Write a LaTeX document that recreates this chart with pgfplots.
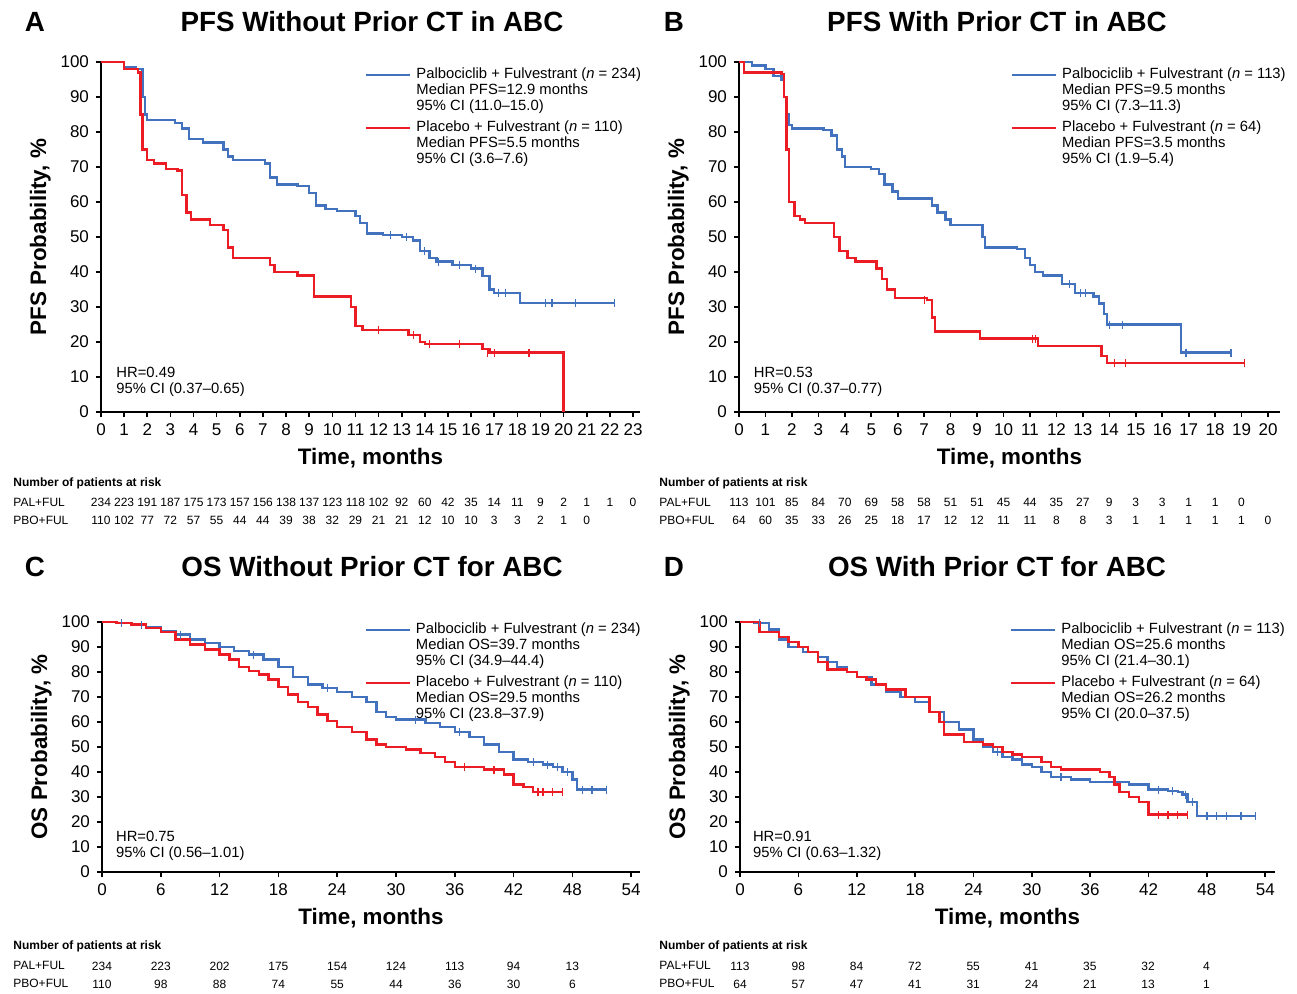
\documentclass[border=0pt]{standalone}
\usepackage{pgfplots}
\pgfplotsset{compat=1.18}
\usepackage{fontspec}
\setmainfont{Liberation Sans}
\definecolor{kmblue}{RGB}{66,114,190}
\definecolor{kmred}{RGB}{236,28,36}
\newcommand{\fs}[1]{\fontsize{#1}{#1}\selectfont}
\pgfplotsset{km/.style={scale only axis, axis lines=left, axis line style={-,line width=1pt},
 tick style={line width=0.8pt,black}, tick align=outside, major tick length=2.5pt,
 ymin=0,ymax=100, ytick={0,10,...,100}, clip=false, xmin=0,
 ticklabel style={font=\fs{8.5}}, /pgf/number format/assume math mode=true,
 xlabel style={font=\bfseries\fs{11.2},yshift=1pt}, ylabel style={font=\bfseries\fs{11.2},yshift=-2pt},
 xlabel={Time, months}},
 bl/.style={kmblue,line width=1.2pt,const plot,mark=none},
 rd/.style={kmred,line width=1.2pt,const plot,mark=none},
 cb/.style={kmblue,only marks,mark=|,mark size=2pt,mark options={line width=0.6pt}},
 cr/.style={kmred,only marks,mark=|,mark size=2pt,mark options={line width=0.6pt}}}
\tikzset{lg/.style={anchor=west,font=\fs{7.4},align=left,inner sep=0}}
\begin{document}
\begin{tikzpicture}
\useasboundingbox (0,0) rectangle (648.5pt,496.5pt);
\fill[white] (0,0) rectangle (648.5pt,496.5pt);
% ---------- A
\begin{axis}[km, at={(50.5pt,290.5pt)}, width=269.5pt, height=175pt, xmax=23.3, xtick={0,...,23},
 ylabel={PFS Probability, \%}]
\addplot[bl] coordinates {(0,100)(1,98.5)(1.5,98)(1.8,90)(1.9,85)(2,83.5)(3.2,82.5)(3.5,81)(3.8,78)(4.4,77)(5.3,75)(5.5,73)(5.7,72)(7.1,71)(7.3,67)(7.6,65)(8.5,64.5)(9,62.5)(9.3,59)(9.7,58)(10.2,57.5)(11,56)(11.2,54)(11.5,51)(12.2,50.5)(13,50)(13.5,49)(13.8,46)(14.2,44)(14.5,43)(15.2,42)(16,41)(16.5,38.8)(16.8,35)(17,34)(18.1,31.2)(22.2,31.2)};
\addplot[cb] coordinates {(12.5,50.5)(13.2,50)(14,46)(14.6,43)(15.5,42)(16.2,41)(17.2,34)(17.5,34)(19.2,31.2)(19.5,31.2)(20.5,31.2)(22.2,31.2)};
\addplot[rd] coordinates {(0,100)(1,98)(1.6,97)(1.7,85)(1.8,75)(2,72)(2.3,71)(2.8,69.5)(3.3,69)(3.5,62)(3.7,57)(3.9,55)(4.7,53.5)(5.3,52)(5.5,47)(5.7,44)(7.3,42)(7.5,40)(8.5,39)(9.2,33)(10.8,30)(11,24.5)(11.3,23.5)(13.3,22)(13.8,20)(14,19.5)(16.5,18)(16.8,17)(20,17)(20,0)};
\addplot[cr] coordinates {(12,23.5)(13.5,22)(14.2,19.5)(15.5,19.5)(16.7,17)(17,17)(18.5,17)};
\draw[kmblue,line width=1.2pt] (axis cs:11.46,96.3)--(axis cs:13.36,96.3);
\draw[kmred,line width=1.2pt] (axis cs:11.46,81.1)--(axis cs:13.36,81.1);
\node[lg] at (axis cs:13.62,91.7) {Palbociclib + Fulvestrant (\textit{n} = 234)\\[0.6pt]Median PFS=12.9 months\\[0.6pt]95\% CI (11.0--15.0)};
\node[lg] at (axis cs:13.62,76.6) {Placebo + Fulvestrant (\textit{n} = 110)\\[0.6pt]Median PFS=5.5 months\\[0.6pt]95\% CI (3.6--7.6)};
\node[lg] at (axis cs:0.65,8.5) {HR=0.49\\[0.6pt]95\% CI (0.37--0.65)};
\end{axis}
% ---------- B
\begin{axis}[km, at={(369.5pt,290.5pt)}, width=270.5pt, height=175pt, xmax=20.45, xtick={0,...,20},
 ylabel={PFS Probability, \%}]
\addplot[bl] coordinates {(0,100)(0.5,99)(1,98)(1.3,96)(1.6,95)(1.7,90)(1.8,85)(1.9,82)(2,81)(3.2,80.5)(3.5,79)(3.7,75)(3.9,73)(4,70)(5,69.5)(5.3,68)(5.5,65)(5.8,63)(6,61)(7.3,59)(7.5,57)(7.8,55)(8,53.5)(9.2,50)(9.3,47)(10.5,46.5)(10.8,44)(11,42)(11.2,40)(11.5,39)(12.2,36.5)(12.7,34)(13.4,33)(13.6,31)(13.8,28)(13.9,25)(16.7,17)(18.6,17)};
\addplot[cb] coordinates {(12.5,36.5)(12.9,34)(13.1,34)(14,25)(14.5,25)(16.9,17)(18.6,17)};
\addplot[rd] coordinates {(0,100)(0.2,97)(1.6,96.5)(1.7,90)(1.8,75)(1.9,60)(2.1,56)(2.3,55)(2.5,54)(3.6,50)(3.8,46)(4.1,44)(4.4,43)(5.2,41)(5.4,38)(5.6,35)(5.9,32.5)(7.1,32)(7.3,27)(7.4,23)(9.1,21)(11.3,18.8)(13.7,16)(13.9,14)(19.1,14)};
\addplot[cr] coordinates {(7,32)(11.1,21)(11.2,21)(14.2,14)(14.6,14)(19.1,14)};
\draw[kmblue,line width=1.2pt] (axis cs:10.32,96.3)--(axis cs:11.98,96.3);
\draw[kmred,line width=1.2pt] (axis cs:10.32,81.1)--(axis cs:11.98,81.1);
\node[lg] at (axis cs:12.2,91.7) {Palbociclib + Fulvestrant (\textit{n} = 113)\\[0.6pt]Median PFS=9.5 months\\[0.6pt]95\% CI (7.3--11.3)};
\node[lg] at (axis cs:12.2,76.6) {Placebo + Fulvestrant (\textit{n} = 64)\\[0.6pt]Median PFS=3.5 months\\[0.6pt]95\% CI (1.9--5.4)};
\node[lg] at (axis cs:0.55,8.5) {HR=0.53\\[0.6pt]95\% CI (0.37--0.77)};
\end{axis}
% ---------- C
\begin{axis}[km, at={(51pt,60.5pt)}, width=269pt, height=125pt, xmax=54.9, xtick={0,6,...,54},
 ylabel={OS Probability, \%}]
\addplot[bl] coordinates {(0,100)(1.5,99.5)(3,99)(4.5,98)(6,96.5)(7.5,95)(9,93)(10.5,91.5)(12,90)(13.5,88.5)(15,87)(16.5,85)(18,82)(19.5,78)(21,75)(22.5,73.5)(24,72)(25.5,70)(27,68)(28,64)(29,62)(30,61)(33,59.5)(34.5,58)(36,56)(37.5,54)(39,51)(40.5,48)(42,45)(43.5,44)(45,43)(46,42)(47,40)(48,37)(48.5,33)(51.5,33)};
\addplot[cb] coordinates {(2,99.5)(4,99)(8,95)(15.5,87)(23,73.5)(32,61)(36.5,56)(44,44)(45.5,43)(46.5,42)(47.5,40)(49,33)(50,33)(51.5,33)};
\addplot[rd] coordinates {(0,100)(1.5,99.5)(3,99)(4.5,97.5)(6,96)(7.5,93)(9,91)(10.5,89)(12,87)(13,85)(14,82)(15,80.5)(16,79)(17,77)(18,74)(19,71)(20,68)(21,66)(22,63)(23,60.5)(24,58)(25.5,56)(27,53)(28,51)(29,50)(31,49)(32.5,47.5)(34,46)(35,44)(36,42)(39,41)(41,39)(42,35)(43,34)(44,32)(47,32)};
\addplot[cr] coordinates {(37,42)(40,41)(44.5,32)(45,32)(46,32)(47,32)};
\draw[kmblue,line width=1.2pt] (axis cs:26.94,96.8)--(axis cs:31.43,96.8);
\draw[kmred,line width=1.2pt] (axis cs:26.94,75.6)--(axis cs:31.43,75.6);
\node[lg] at (axis cs:32.0,90.4) {Palbociclib + Fulvestrant (\textit{n} = 234)\\[0.6pt]Median OS=39.7 months\\[0.6pt]95\% CI (34.9--44.4)};
\node[lg] at (axis cs:32.0,69.2) {Placebo + Fulvestrant (\textit{n} = 110)\\[0.6pt]Median OS=29.5 months\\[0.6pt]95\% CI (23.8--37.9)};
\node[lg] at (axis cs:1.4,10.5) {HR=0.75\\[0.6pt]95\% CI (0.56--1.01)};
\end{axis}
% ---------- D
\begin{axis}[km, at={(370pt,60.5pt)}, width=267.5pt, height=125pt, xmax=55, xtick={0,6,...,54},
 ylabel={OS Probability, \%}]
\addplot[bl] coordinates {(0,100)(1.5,99.5)(3,97)(4,93)(5,90)(6.5,88)(8,86)(9,84)(10,82)(11,80)(12,78)(13.5,75)(15,72)(16.5,70)(18,68)(19.5,64)(21,60)(22.5,57)(24,53)(25,50)(26,48)(27,46)(28,45)(29,43)(30,42)(31,40)(32,38)(34,37)(36,36)(38,36)(40,35)(42,33)(44,32.5)(45,32)(45.5,31)(46,28)(47,22.5)(53,22.5)};
\addplot[cb] coordinates {(2,99.5)(26.5,48)(33,38)(43,33)(44.5,32.5)(45.8,31)(46.5,28)(48,22.5)(49,22.5)(50,22.5)(51.5,22.5)(53,22.5)};
\addplot[rd] coordinates {(0,100)(2,96)(4,94)(5,92)(6,90)(7,88)(8,84)(9,81)(11,80)(12,78)(13,77)(14,75)(15,73)(17,70)(19.5,64)(20.5,60)(21,55)(23,52)(25,51)(26,50)(27,48)(28,47)(29,46)(31,44)(32,42)(33,41)(37,40)(38,38)(38.5,35)(39,32)(40,30)(41,28)(42,23)(46,23)};
\addplot[cr] coordinates {(43,23)(44,23)(45,23)(46,23)};
\draw[kmblue,line width=1.2pt] (axis cs:27.9,96.8)--(axis cs:32.4,96.8);
\draw[kmred,line width=1.2pt] (axis cs:27.9,75.6)--(axis cs:32.4,75.6);
\node[lg] at (axis cs:33.0,90.4) {Palbociclib + Fulvestrant (\textit{n} = 113)\\[0.6pt]Median OS=25.6 months\\[0.6pt]95\% CI (21.4--30.1)};
\node[lg] at (axis cs:33.0,69.2) {Placebo + Fulvestrant (\textit{n} = 64)\\[0.6pt]Median OS=26.2 months\\[0.6pt]95\% CI (20.0--37.5)};
\node[lg] at (axis cs:1.3,10.5) {HR=0.91\\[0.6pt]95\% CI (0.63--1.32)};
\end{axis}
% ---------- titles
\tikzset{tt/.style={font=\bfseries\fs{13.9}}}
\node[tt] at ({35*0.5pt},{(993-22)*0.5pt}) {A};
\node[tt] at ({372*0.5pt},{(993-22)*0.5pt}) {PFS Without Prior CT in ABC};
\node[tt] at ({674*0.5pt},{(993-22)*0.5pt}) {B};
\node[tt] at ({997*0.5pt},{(993-22)*0.5pt}) {PFS With Prior CT in ABC};
\node[tt] at ({35*0.5pt},{(993-567)*0.5pt}) {C};
\node[tt] at ({372*0.5pt},{(993-567)*0.5pt}) {OS Without Prior CT for ABC};
\node[tt] at ({674*0.5pt},{(993-567)*0.5pt}) {D};
\node[tt] at ({997*0.5pt},{(993-567)*0.5pt}) {OS With Prior CT for ABC};
% ---------- risk tables
\tikzset{rk/.style={font=\fs{6},inner sep=0}}
\foreach \X/\Y in {13/483,659/483,13/946,659/946}{
 \node[rk,anchor=west,font=\bfseries\fs{6}] at ({\X*0.5pt},{(993-\Y)*0.5pt}) {Number of patients at risk};
 \node[rk,anchor=west] at ({\X*0.5pt},{(993-\Y-19)*0.5pt}) {PAL+FUL};
 \node[rk,anchor=west] at ({\X*0.5pt},{(993-\Y-37)*0.5pt}) {PBO+FUL};}
\foreach \v [count=\i from 0] in {234,223,191,187,175,173,157,156,138,137,123,118,102,92,60,42,35,14,11,9,2,1,1,0}
 \node[rk] at ({(101+23.13*\i)*0.5pt},{(993-502)*0.5pt}) {\v};
\foreach \v [count=\i from 0] in {110,102,77,72,57,55,44,44,39,38,32,29,21,21,12,10,10,3,3,2,1,0}
 \node[rk] at ({(101+23.13*\i)*0.5pt},{(993-520)*0.5pt}) {\v};
\foreach \v [count=\i from 0] in {113,101,85,84,70,69,58,58,51,51,45,44,35,27,9,3,3,1,1,0}
 \node[rk] at ({(739+26.45*\i)*0.5pt},{(993-502)*0.5pt}) {\v};
\foreach \v [count=\i from 0] in {64,60,35,33,26,25,18,17,12,12,11,11,8,8,3,1,1,1,1,1,0}
 \node[rk] at ({(739+26.45*\i)*0.5pt},{(993-520)*0.5pt}) {\v};
\foreach \v [count=\i from 0] in {234,223,202,175,154,124,113,94,13}
 \node[rk] at ({(102+58.8*\i)*0.5pt},{(993-966)*0.5pt}) {\v};
\foreach \v [count=\i from 0] in {110,98,88,74,55,44,36,30,6}
 \node[rk] at ({(102+58.8*\i)*0.5pt},{(993-984)*0.5pt}) {\v};
\foreach \v [count=\i from 0] in {113,98,84,72,55,41,35,32,4}
 \node[rk] at ({(740+58.3*\i)*0.5pt},{(993-966)*0.5pt}) {\v};
\foreach \v [count=\i from 0] in {64,57,47,41,31,24,21,13,1}
 \node[rk] at ({(740+58.3*\i)*0.5pt},{(993-984)*0.5pt}) {\v};
\end{tikzpicture}
\end{document}
